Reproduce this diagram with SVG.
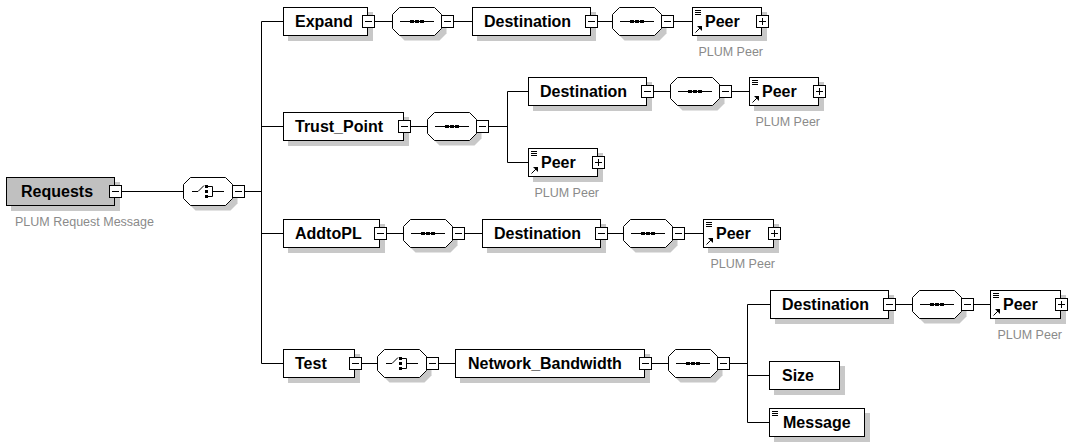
<svg xmlns="http://www.w3.org/2000/svg" xmlns:xlink="http://www.w3.org/1999/xlink" width="1069" height="443" viewBox="0 0 1069 443">
<style>
.bg{fill:#fff}
.box{fill:#fff;stroke:#000;stroke-width:1}
.req{fill:#c0c0c0;stroke:#000;stroke-width:1}
.shd{fill:#c8c8c8}
.w{fill:none;stroke:#000;stroke-width:1}
.lbl{font-family:"Liberation Sans",Arial,sans-serif;font-weight:bold;font-size:16px;fill:#000}
.sub{font-family:"Liberation Sans",Arial,sans-serif;font-size:12.5px;fill:#8a8a8a}
.end{text-anchor:end}
</style>
<defs>
<g id="mn"><rect class="box" x="0.5" y="0.5" width="12" height="12"/><path class="w" d="M3,6.5 H10"/></g>
<g id="pl"><rect class="box" x="0.5" y="0.5" width="12" height="12"/><path class="w" d="M3,6.5 H10 M6.5,3 V10"/></g>
<g id="oct"><path class="shd" d="M12.5,5.5 H47.5 L54.5,12.5 V26.5 L47.5,33.5 H12.5 L5.5,26.5 V12.5 Z"/><path class="box" d="M7.5,0.5 H42.5 L49.5,7.5 V21.5 L42.5,28.5 H7.5 L0.5,21.5 V7.5 Z"/></g>
<g id="seq"><use xlink:href="#oct" href="#oct"/><path class="w" d="M8,14.5 H42"/><rect x="18" y="13" width="4" height="3"/><rect x="23" y="13" width="4" height="3"/><rect x="28" y="13" width="4" height="3"/></g>
<g id="cho"><use xlink:href="#oct" href="#oct"/><path class="w" d="M9,14.5 H15 L21,8.5"/><rect x="22" y="8" width="3" height="3"/><rect x="22" y="13" width="3" height="3"/><rect x="22" y="18" width="3" height="3"/><path class="w" d="M25,9.5 H29.5 V19.5 H25 M29.5,14.5 H41"/></g>
<g id="doc"><path class="w" d="M3,3.5 H9 M3,5.5 H9 M3,7.5 H9"/></g>
<g id="ref"><use xlink:href="#doc" href="#doc"/><path class="w" d="M3.5,25.5 L8,21"/><polygon points="10,19 10,24 5,19"/></g>
</defs>
<rect class="bg" x="0" y="0" width="1069" height="443"/>

<g id="connectors">
<path class="w" d="M122,191.5 H183 M245,191.5 H261.5 M261.5,21.5 V363.5
M261.5,21.5 H283 M375,21.5 H392 M454,21.5 H472 M598,21.5 H612 M674,21.5 H692
M261.5,126.5 H283 M411,126.5 H427 M489,126.5 H507.5 M507.5,91.5 V162.5 M507.5,91.5 H528 M507.5,162.5 H528 M654,91.5 H670 M732,91.5 H749
M261.5,233.5 H283 M387,233.5 H403 M465,233.5 H482 M608,233.5 H623 M685,233.5 H703
M261.5,363.5 H283 M362,363.5 H377 M439,363.5 H455 M652,363.5 H668 M730,363.5 H747.5 M747.5,304.5 V422.5 M747.5,304.5 H770 M747.5,375.5 H769 M747.5,422.5 H769 M896,304.5 H912 M974,304.5 H990"/>
</g>

<g id="requests"><rect class="shd" x="11" y="182" width="109" height="29"/><rect class="req" x="6.5" y="177.5" width="108" height="28"/><text class="lbl" x="21" y="197">Requests</text><use xlink:href="#mn" href="#mn" x="109" y="185"/><text class="sub" x="15" y="226">PLUM Request Message</text></g>
<g id="choice1"><use xlink:href="#cho" href="#cho" x="183" y="177"/><use xlink:href="#mn" href="#mn" x="232" y="185"/></g>

<g id="expand"><rect class="shd" x="288" y="12" width="85" height="29"/><rect class="box" x="283.5" y="7.5" width="84" height="28"/><text class="lbl" x="295" y="27">Expand</text><use xlink:href="#mn" href="#mn" x="362" y="15"/></g>
<g id="seq1"><use xlink:href="#seq" href="#seq" x="392" y="7"/><use xlink:href="#mn" href="#mn" x="441" y="15"/></g>
<g id="dest1"><rect class="shd" x="477" y="12" width="119" height="29"/><rect class="box" x="472.5" y="7.5" width="118" height="28"/><text class="lbl" x="484" y="27">Destination</text><use xlink:href="#mn" href="#mn" x="585" y="15"/></g>
<g id="seq2"><use xlink:href="#seq" href="#seq" x="612" y="7"/><use xlink:href="#mn" href="#mn" x="661" y="15"/></g>
<g id="peer1"><rect class="shd" x="697" y="12" width="70" height="29"/><rect class="box" x="692.5" y="7.5" width="69" height="28"/><use xlink:href="#ref" href="#ref" x="692" y="7"/><text class="lbl" x="705" y="27">Peer</text><use xlink:href="#pl" href="#pl" x="756" y="15"/><text class="sub end" x="763" y="56">PLUM Peer</text></g>

<g id="trust_point"><rect class="shd" x="288" y="117" width="121" height="29"/><rect class="box" x="283.5" y="112.5" width="120" height="28"/><text class="lbl" x="295" y="132">Trust_Point</text><use xlink:href="#mn" href="#mn" x="398" y="120"/></g>
<g id="seq3"><use xlink:href="#seq" href="#seq" x="427" y="112"/><use xlink:href="#mn" href="#mn" x="476" y="120"/></g>
<g id="dest2"><rect class="shd" x="533" y="82" width="119" height="29"/><rect class="box" x="528.5" y="77.5" width="118" height="28"/><text class="lbl" x="540" y="97">Destination</text><use xlink:href="#mn" href="#mn" x="641" y="85"/></g>
<g id="seq4"><use xlink:href="#seq" href="#seq" x="670" y="77"/><use xlink:href="#mn" href="#mn" x="719" y="85"/></g>
<g id="peer2"><rect class="shd" x="754" y="82" width="70" height="29"/><rect class="box" x="749.5" y="77.5" width="69" height="28"/><use xlink:href="#ref" href="#ref" x="749" y="77"/><text class="lbl" x="762" y="97">Peer</text><use xlink:href="#pl" href="#pl" x="813" y="85"/><text class="sub end" x="820" y="126">PLUM Peer</text></g>
<g id="peer2b"><rect class="shd" x="533" y="153" width="70" height="29"/><rect class="box" x="528.5" y="148.5" width="69" height="28"/><use xlink:href="#ref" href="#ref" x="528" y="148"/><text class="lbl" x="541" y="168">Peer</text><use xlink:href="#pl" href="#pl" x="592" y="156"/><text class="sub end" x="599" y="197">PLUM Peer</text></g>

<g id="addtopl"><rect class="shd" x="288" y="224" width="97" height="29"/><rect class="box" x="283.5" y="219.5" width="96" height="28"/><text class="lbl" x="295" y="239">AddtoPL</text><use xlink:href="#mn" href="#mn" x="374" y="227"/></g>
<g id="seq5"><use xlink:href="#seq" href="#seq" x="403" y="219"/><use xlink:href="#mn" href="#mn" x="452" y="227"/></g>
<g id="dest3"><rect class="shd" x="487" y="224" width="119" height="29"/><rect class="box" x="482.5" y="219.5" width="118" height="28"/><text class="lbl" x="494" y="239">Destination</text><use xlink:href="#mn" href="#mn" x="595" y="227"/></g>
<g id="seq6"><use xlink:href="#seq" href="#seq" x="623" y="219"/><use xlink:href="#mn" href="#mn" x="672" y="227"/></g>
<g id="peer3"><rect class="shd" x="708" y="224" width="71" height="29"/><rect class="box" x="703.5" y="219.5" width="70" height="28"/><use xlink:href="#ref" href="#ref" x="703" y="219"/><text class="lbl" x="716" y="239">Peer</text><use xlink:href="#pl" href="#pl" x="768" y="227"/><text class="sub end" x="775" y="268">PLUM Peer</text></g>

<g id="test"><rect class="shd" x="288" y="354" width="72" height="29"/><rect class="box" x="283.5" y="349.5" width="71" height="28"/><text class="lbl" x="295" y="369">Test</text><use xlink:href="#mn" href="#mn" x="349" y="357"/></g>
<g id="choice2"><use xlink:href="#cho" href="#cho" x="377" y="349"/><use xlink:href="#mn" href="#mn" x="426" y="357"/></g>
<g id="network_bandwidth"><rect class="shd" x="460" y="354" width="190" height="29"/><rect class="box" x="455.5" y="349.5" width="189" height="28"/><text class="lbl" x="468" y="369">Network_Bandwidth</text><use xlink:href="#mn" href="#mn" x="639" y="357"/></g>
<g id="seq7"><use xlink:href="#seq" href="#seq" x="668" y="349"/><use xlink:href="#mn" href="#mn" x="717" y="357"/></g>
<g id="dest4"><rect class="shd" x="775" y="295" width="119" height="29"/><rect class="box" x="770.5" y="290.5" width="118" height="28"/><text class="lbl" x="782" y="310">Destination</text><use xlink:href="#mn" href="#mn" x="883" y="298"/></g>
<g id="seq8"><use xlink:href="#seq" href="#seq" x="912" y="290"/><use xlink:href="#mn" href="#mn" x="961" y="298"/></g>
<g id="peer4"><rect class="shd" x="995" y="295" width="71" height="29"/><rect class="box" x="990.5" y="290.5" width="70" height="28"/><use xlink:href="#ref" href="#ref" x="990" y="290"/><text class="lbl" x="1003" y="310">Peer</text><use xlink:href="#pl" href="#pl" x="1055" y="298"/><text class="sub end" x="1062" y="339">PLUM Peer</text></g>
<g id="size"><rect class="shd" x="774" y="366" width="71" height="29"/><rect class="box" x="769.5" y="361.5" width="70" height="28"/><text class="lbl" x="782" y="381">Size</text></g>
<g id="message"><rect class="shd" x="774" y="413" width="96" height="29"/><rect class="box" x="769.5" y="408.5" width="95" height="28"/><use xlink:href="#doc" href="#doc" x="769" y="408"/><text class="lbl" x="783" y="428">Message</text></g>
</svg>
